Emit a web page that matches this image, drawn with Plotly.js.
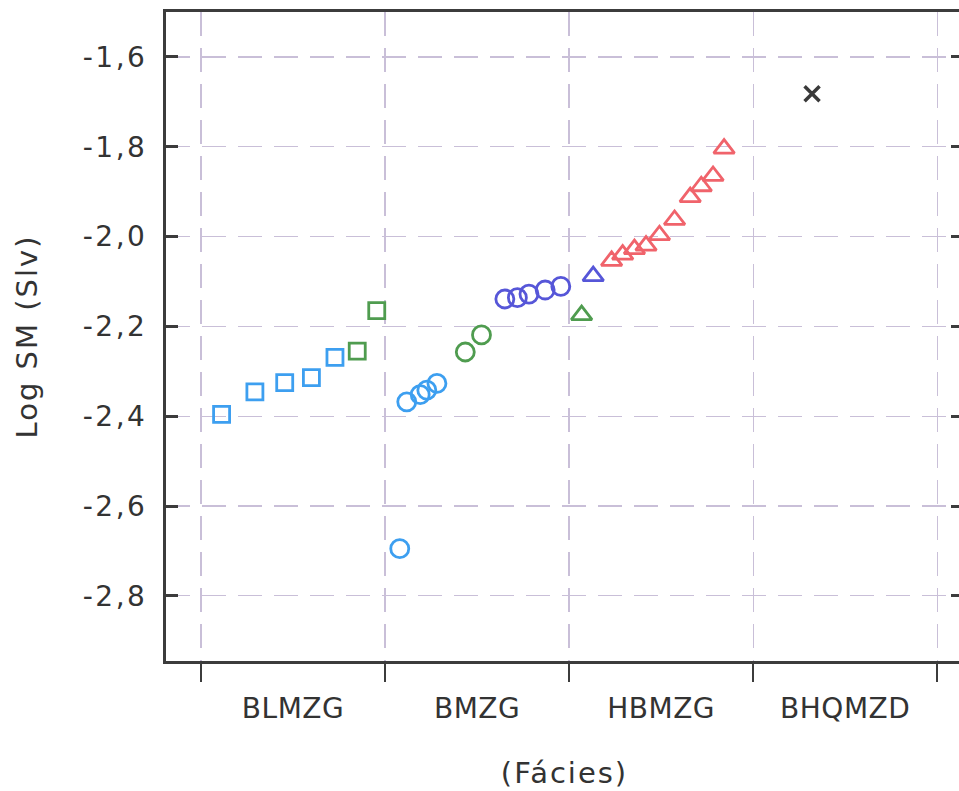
<!DOCTYPE html>
<html>
<head>
<meta charset="utf-8">
<script src="https://cdn.plot.ly/plotly-3.0.1.min.js"></script>
<style>
html,body{margin:0;padding:0;background:#fff;overflow:hidden;}
#chart{width:963px;height:791px;}
#chart .ytick text{letter-spacing:2.5px;}
#chart .g-xtitle text,#chart .g-ytitle text{letter-spacing:2px;}
#chart .xtick text{letter-spacing:0.5px;}
</style>
</head>
<body>
<div id="chart"></div>
<script>
// Category labels (centred between facies boundaries)
const categories = ["BLMZG", "BMZG", "HBMZG", "BHQMZD"];
const categoryPos = [0.5, 1.5, 2.5, 3.5];
const boundaryPos = [0, 1, 2, 3, 4];

// y tick labels
const yTickVals = [-1.6, -1.8, -2.0, -2.2, -2.4, -2.6, -2.8];
const yTickText = ["-1,6", "-1,8", "-2,0", "-2,2", "-2,4", "-2,6", "-2,8"];

// BLMZG — squares
const blmzgBlueX = [0.112, 0.293, 0.455, 0.600, 0.728];
const blmzgBlueY = [-2.396, -2.346, -2.325, -2.314, -2.269];
const blmzgGreenX = [0.849, 0.955];
const blmzgGreenY = [-2.255, -2.165];

// BMZG — circles
const bmzgLightX = [1.080, 1.118, 1.191, 1.227, 1.282];
const bmzgLightY = [-2.695, -2.368, -2.352, -2.342, -2.327];
const bmzgGreenX = [1.436, 1.524];
const bmzgGreenY = [-2.257, -2.219];
const bmzgBlueX = [1.651, 1.719, 1.782, 1.870, 1.955];
const bmzgBlueY = [-2.139, -2.136, -2.128, -2.119, -2.111];

// HBMZG — triangles
const hbmzgGreenX = [2.068];
const hbmzgGreenY = [-2.175];
const hbmzgBlueX = [2.131];
const hbmzgBlueY = [-2.088];
const hbmzgRedX = [2.231, 2.291, 2.355, 2.418, 2.491, 2.573, 2.658, 2.718, 2.782, 2.842];
const hbmzgRedY = [-2.054, -2.040, -2.028, -2.020, -1.997, -1.963, -1.912, -1.888, -1.865, -1.804];

// BHQMZD — cross
const bhqmzdX = [3.32];
const bhqmzdY = [-1.682];

const cLight = "#3d9ff0", cGreen = "#4f9c4f", cBlue = "#5656d8", cRed = "#f0636b", cBlack = "#3a3a3a";

function tr(x, y, symbol, color, size, lw) {
  return {
    x: x, y: y, type: "scatter", mode: "markers", showlegend: false, hoverinfo: "skip",
    marker: { symbol: symbol, size: size, color: color, line: { color: color, width: lw } }
  };
}

const data = [
  tr(blmzgBlueX, blmzgBlueY, "square-open", cLight, 16, 2.8),
  tr(blmzgGreenX, blmzgGreenY, "square-open", cGreen, 16, 2.8),
  tr(bmzgLightX, bmzgLightY, "circle-open", cLight, 18, 2.8),
  tr(bmzgGreenX, bmzgGreenY, "circle-open", cGreen, 18, 2.8),
  tr(bmzgBlueX, bmzgBlueY, "circle-open", cBlue, 18, 2.8),
  tr(hbmzgGreenX, hbmzgGreenY, "triangle-up-open", cGreen, 18, 2.8),
  tr(hbmzgBlueX, hbmzgBlueY, "triangle-up-open", cBlue, 18, 2.8),
  tr(hbmzgRedX, hbmzgRedY, "triangle-up-open", cRed, 18, 2.8),
  tr(bhqmzdX, bhqmzdY, "x-thin-open", cBlack, 15, 3.5)
];

const gridColor = "#c9bfd8";
const axisColor = "#3c3c3c";
const fontFam = "DejaVu Sans, sans-serif";

const layout = {
  width: 963, height: 791,
  margin: { l: 166, r: 0, t: 12, b: 130 },
  paper_bgcolor: "#ffffff", plot_bgcolor: "#ffffff",
  font: { family: fontFam, color: "#333333" },
  xaxis: {
    range: [-0.19, 4.14],
    tickmode: "array", tickvals: categoryPos, ticktext: categories,
    ticks: "", showgrid: false, zeroline: false,
    tickfont: { family: fontFam, size: 28, color: "#333333" },
    ticklabelstandoff: 20,
    showline: true, linecolor: axisColor, linewidth: 3, mirror: true,
    minor: {
      tickmode: "array", tickvals: boundaryPos,
      ticks: "outside", ticklen: 18, tickwidth: 2.5, tickcolor: axisColor,
      showgrid: true, gridcolor: gridColor, gridwidth: 1.2, griddash: "24px,12px"
    },
    title: { text: "(Fácies)", font: { family: fontFam, size: 29, color: "#333333" }, standoff: 40 }
  },
  yaxis: {
    range: [-2.945, -1.5],
    tickmode: "array", tickvals: yTickVals, ticktext: yTickText,
    ticks: "inside", ticklen: 12, tickwidth: 3, tickcolor: axisColor,
    tickfont: { family: fontFam, size: 28, color: "#333333" },
    ticklabelstandoff: 10,
    showgrid: true, gridcolor: gridColor, gridwidth: 1.2, griddash: "24px,12px",
    zeroline: false,
    showline: true, linecolor: axisColor, linewidth: 3, mirror: "ticks",
    title: { text: "Log SM (Slv)", font: { family: fontFam, size: 29, color: "#333333" }, standoff: 47 }
  }
};

Plotly.newPlot("chart", data, layout, { staticPlot: true, displayModeBar: false });
</script>
</body>
</html>
